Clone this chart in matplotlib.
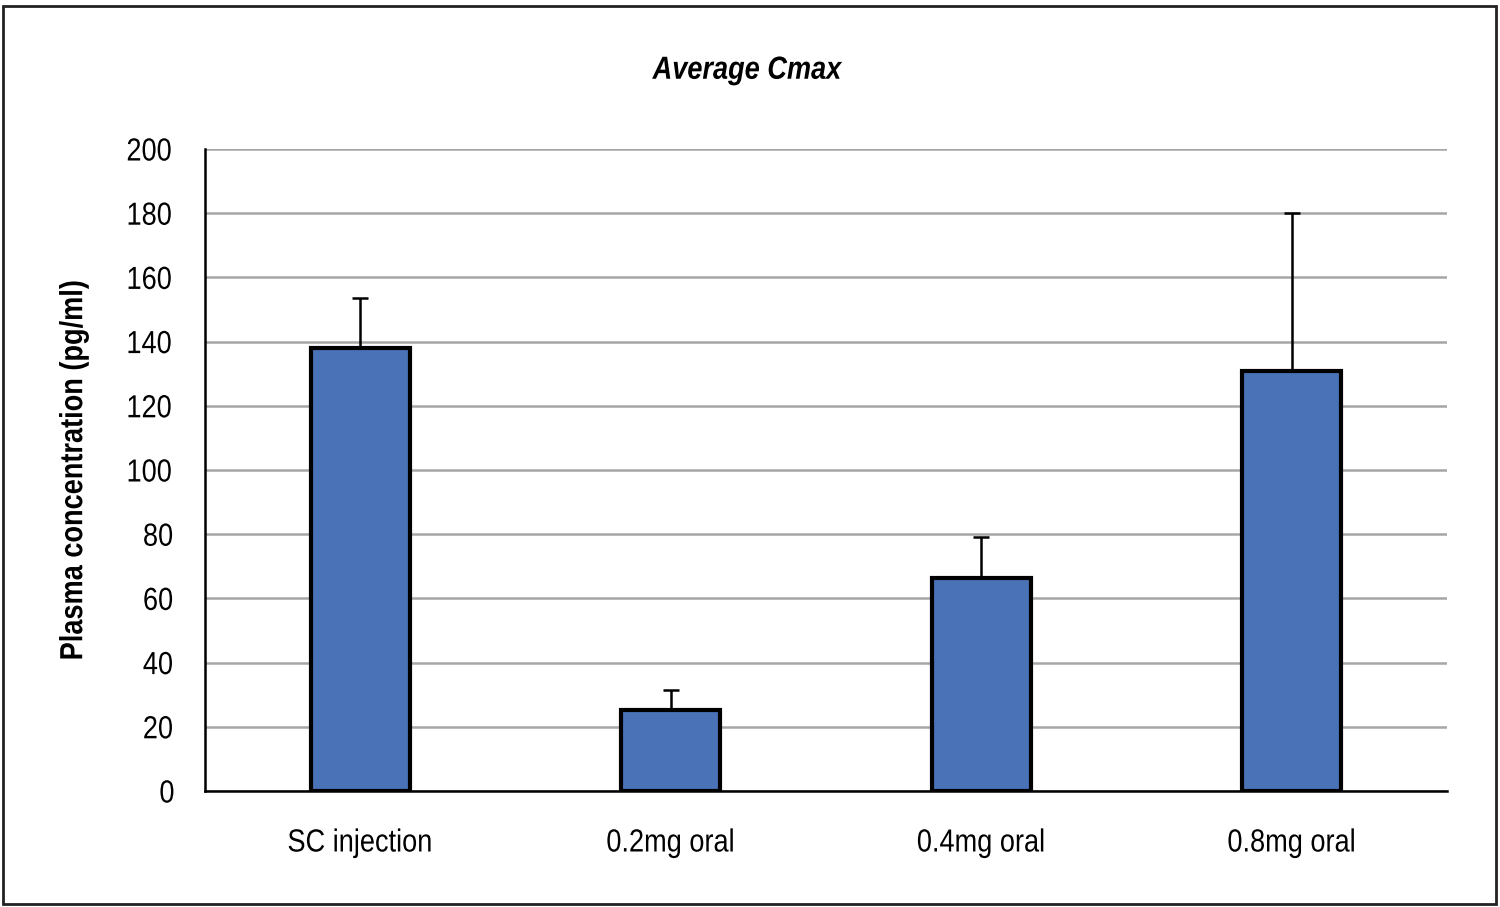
import matplotlib
matplotlib.use("Agg")
import matplotlib.pyplot as plt
from matplotlib.patheffects import AbstractPathEffect
from matplotlib.transforms import Affine2D
import numpy as np

categories = ["SC injection", "0.2mg oral", "0.4mg oral", "0.8mg oral"]
values = [138.0, 25.2, 66.4, 130.8]
err_upper = [15.6, 6.3, 12.7, 49.2]
yticks = [0, 20, 40, 60, 80, 100, 120, 140, 160, 180, 200]

plt.rcParams["font.family"] = ["Liberation Sans", "DejaVu Sans"]


class Squeeze(AbstractPathEffect):
    """Condense text horizontally about its centre (narrow-font look)."""
    def __init__(self, sx=0.85):
        super().__init__()
        self.sx = sx

    def draw_path(self, renderer, gc, tpath, affine, rgbFace=None):
        v = tpath.vertices
        if len(v):
            cx = (v[:, 0].min() + v[:, 0].max()) / 2.0
        else:
            cx = 0.0
        t = Affine2D().translate(-cx, 0).scale(self.sx, 1).translate(cx, 0)
        renderer.draw_path(gc, tpath, t + affine, rgbFace)


sq = [Squeeze(0.85)]

fig = plt.figure(figsize=(15, 9.07), dpi=100)
ax = fig.add_axes([0.1367, 0.1279, 0.828, 0.7078])

x = np.arange(len(categories))
ax.bar(x, values, width=0.32, color="#4a72b6", edgecolor="black", linewidth=3, zorder=3)
ax.errorbar(x, values, yerr=[np.zeros(len(values)), err_upper], fmt="none",
            ecolor="black", elinewidth=1.8, capsize=6, capthick=1.8, zorder=2)

ax.set_xlim(-0.5, len(categories) - 0.5)
ax.set_ylim(0, 200)
ax.set_yticks(yticks)
ax.set_xticks(x)
ax.set_xticklabels(categories, fontsize=23)
ax.tick_params(axis="y", labelsize=23, length=0, pad=21)
ax.tick_params(axis="x", length=0, pad=27)
for lab in ax.get_xticklabels() + ax.get_yticklabels():
    lab.set_path_effects(sq)
ax.yaxis.grid(True, color="#a6a6a6", linewidth=1.8, zorder=0)
ax.set_axisbelow(True)
for s in ["top", "right"]:
    ax.spines[s].set_visible(False)
ax.spines["left"].set_linewidth(1.8)
ax.spines["bottom"].set_linewidth(1.8)
yl = ax.set_ylabel("Plasma concentration (pg/ml)", fontsize=23, fontweight="bold", labelpad=24)
yl.set_path_effects(sq)

t = fig.text(0.498, 0.922, "Average Cmax", ha="center", va="center", fontsize=23,
             fontweight="bold", fontstyle="italic")
t.set_path_effects(sq)

border = plt.Rectangle((0.002, 0.003), 0.995, 0.99, transform=fig.transFigure,
                       fill=False, edgecolor="#222222", linewidth=2)
fig.patches.append(border)

fig.savefig("out.png", dpi=100)
